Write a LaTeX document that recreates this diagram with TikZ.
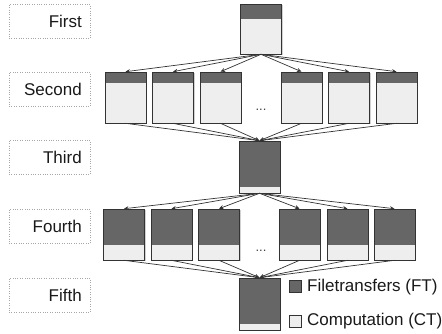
\documentclass[tikz,border=0pt]{standalone}
\usepackage{fontspec}
\setmainfont{Liberation Sans}
\usetikzlibrary{arrows.meta,shadows}
\definecolor{dk}{HTML}{666666}
\definecolor{lt}{HTML}{EEEEEE}
\definecolor{bd}{HTML}{333333}
\tikzset{
  lbl/.style={draw=gray!70, dotted, minimum width=81pt, minimum height=34pt, inner sep=0pt},
  lbltxt/.style={anchor=east, inner sep=0pt, font=\fontsize{17}{20}\selectfont, text=black!90},
  blk/.style={draw=bd, fill=lt, line width=0.6pt, minimum width=41pt, inner sep=0pt,
    drop shadow={shadow xshift=1pt, shadow yshift=-1pt, fill=black!30, opacity=0.6}},
  hd/.style={path picture={\fill[dk] (path picture bounding box.north west) rectangle ([yshift=-#1]path picture bounding box.north east);}},
  arr/.style={draw=bd, line width=0.7pt, -{Stealth[length=4.5pt,width=4pt]}},
  leg/.style={draw=bd, line width=0.6pt, minimum size=12pt, inner sep=0pt},
  legt/.style={anchor=west, inner sep=0pt, font=\fontsize{17}{20}\selectfont, text=black!90},
  dots/.style={font=\fontsize{13}{15}\selectfont, text=black!75}
}
\begin{document}
\begin{tikzpicture}[x=1pt,y=-1pt]
\useasboundingbox (0,0) rectangle (442,333);
% labels
\foreach \n/\t/\y in {l1/First/21, l2/Second/89, l3/Third/157, l4/Fourth/226, l5/Fifth/295}{
  \node[lbl] (\n) at (49.5,\y) {};
  \node[lbltxt] (\n t) at (82,\y) {\t};
}
% row 1
\node[blk, minimum height=50pt, hd=15pt] (r1) at (261,29) {};
% row 2
\foreach \i/\x in {1/125.5, 2/173, 3/220.5, 4/301.5, 5/349, 6/396.5}{
  \node[blk, minimum height=51pt, hd=11pt] (b\i) at (\x,97.5) {};
}
\node[dots] (e2) at (261,110) {...};
% row 3
\node[blk, minimum height=52pt, hd=46pt] (r3) at (259.5,167) {};
% row 4
\foreach \i/\x in {1/124, 2/171.5, 3/219, 4/299.5, 5/347.5, 6/394.5}{
  \node[blk, minimum height=51pt, hd=36pt] (c\i) at (\x,234.5) {};
}
\node[dots] (e4) at (261,251) {...};
% row 5
\node[blk, minimum height=52pt, hd=46pt] (r5) at (259.5,304) {};
% arrows
\foreach \i in {1,...,6}{
  \draw[arr] (r1.south) -- (b\i.north);
  \draw[arr] (b\i.south) -- (r3.north);
  \draw[arr] (r3.south) -- (c\i.north);
  \draw[arr] (c\i.south) -- (r5.north);
}
% legend
\node[leg, fill=dk] (s1) at (295.5,286.5) {};
\node[legt] (t1) at (307,287) {Filetransfers (FT)};
\node[leg, fill=lt] (s2) at (295.5,321) {};
\node[legt] (t2) at (307,321) {Computation (CT)};
\end{tikzpicture}
\end{document}
